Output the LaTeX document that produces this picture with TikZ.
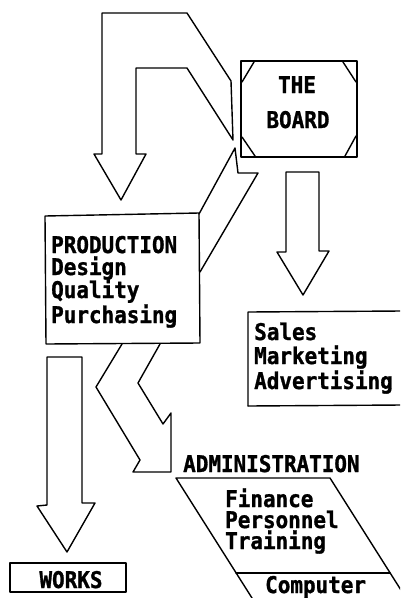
\documentclass[tikz,border=0pt]{standalone}
\usepackage{fontspec}
\newfontfamily\pixfont{DejaVu Sans Mono Bold}[FakeStretch=0.91,AutoFakeBold=1.2]
\begin{document}
\begin{tikzpicture}[x=1pt,y=-1pt,
  ln/.style={line width=1.4pt,line join=round,line cap=round},
  txt/.style={font=\pixfont\bfseries\fontsize{23}{24}\selectfont,inner sep=0pt,anchor=base west},
  ctxt/.style={txt,anchor=base}]
\useasboundingbox (0,0) rectangle (400,598);
\clip (0,0) rectangle (400,598);

% THE BOARD
\draw[ln] (241,61) rectangle (357,157);
\draw[ln] (242,82) -- (254,62);
\draw[ln] (343,62) -- (356,82);
\draw[ln] (242,137) -- (255,156);
\draw[ln] (345,156) -- (356,136);
\node[ctxt] (the) at (297,93) {THE};
\node[ctxt] (board) at (298,128) {BOARD};

% big U arrow from board to production
\draw[ln] (233,140) -- (187,68) -- (136,68) -- (136,154) -- (146,154)
  -- (121,200) -- (94,154) -- (102,154) -- (102,13) -- (187,13) -- (231,81) -- cycle;

% PRODUCTION box
\draw[ln] (45,216) -- (199,213) -- (200,343) -- (46,344) -- cycle;
\node[txt] (p1) at (51,253) {PRODUCTION};
\node[txt] (p2) at (51,275) {Design};
\node[txt] (p3) at (51,298) {Quality};
\node[txt] (p4) at (51,323) {Purchasing};

% arrow from production up to board
\draw[ln] (199,214) -- (235,148) -- (238,173) -- (258,173) -- (200,272);

% arrow board -> sales
\draw[ln] (286,252) -- (286,172) -- (319,172) -- (319,251) -- (329,251)
  -- (303,295) -- (277,252) -- cycle;

% Sales box
\draw[ln] (248,406) -- (248,312) -- (402,311);
\draw[ln] (248,406) -- (402,405);
\node[txt] (s1) at (254,340) {Sales};
\node[txt] (s2) at (254,364) {Marketing};
\node[txt] (s3) at (254,389) {Advertising};

% arrow production -> works
\draw[ln] (47,505) -- (47,357) -- (82,357) -- (82,503) -- (95,503)
  -- (67,552) -- (37,506) -- cycle;

% WORKS box
\draw[ln] (10,563) rectangle (126,592);
\node[ctxt] (works) at (71,588) {WORKS};

% zigzag arrow production -> administration
\draw[ln] (122,344) -- (96,387) -- (140,460) -- (133,472) -- (171,472)
  -- (171,413) -- (163,424) -- (138,383) -- (160,344);

% ADMINISTRATION
\node[txt] (adm) at (183,472) {ADMINISTRATION};
\draw[ln] (252,598) -- (176,478) -- (330,478) -- (406,598);
\draw[ln] (236,573) -- (390,573);
\node[txt] (a1) at (225,507) {Finance};
\node[txt] (a2) at (225,528) {Personnel};
\node[txt] (a3) at (225,549) {Training};
\node[txt] (a4) at (265,593) {Computer};
\end{tikzpicture}
\end{document}
